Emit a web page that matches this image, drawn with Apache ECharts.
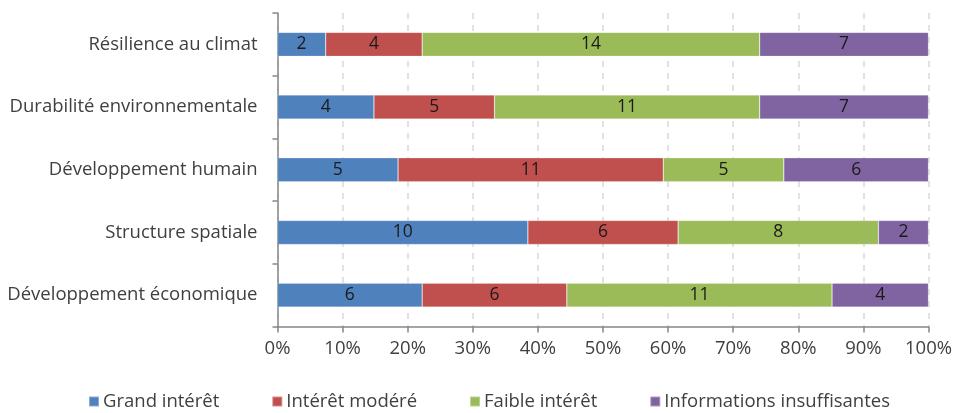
<!DOCTYPE html>
<html>
<head>
<meta charset="utf-8">
<script src="https://cdn.jsdelivr.net/npm/echarts@6/dist/echarts.min.js"></script>
<style>
  html, body { margin: 0; padding: 0; background: #fff; }
  #chart { width: 955px; height: 413px; }
</style>
</head>
<body>
<div id="chart"></div>
<script>
// Categories, bottom to top as drawn on the vertical axis
const categories = [
  'Développement économique',
  'Structure spatiale',
  'Développement humain',
  'Durabilité environnementale',
  'Résilience au climat'
];

const seriesNames = ['Grand intérêt', 'Intérêt modéré', 'Faible intérêt', 'Informations insuffisantes'];

// Counts per category (same order as categories)
const grandInteret = [6, 10, 5, 4, 2];
const interetModere = [6, 6, 11, 5, 4];
const faibleInteret = [11, 8, 5, 11, 14];
const infoInsuffisantes = [4, 2, 6, 7, 7];

const xTickLabels = ['0%', '10%', '20%', '30%', '40%', '50%', '60%', '70%', '80%', '90%', '100%'];

const colors = ['#4f81bd', '#c0504d', '#9bbb59', '#8064a2'];
const FONT = 'Open Sans';
const FS = 18.5;

const counts = [grandInteret, interetModere, faibleInteret, infoInsuffisantes];
const totals = categories.map((_, i) => counts.reduce((s, arr) => s + arr[i], 0));

const series = counts.map((arr, k) => ({
  name: seriesNames[k],
  type: 'bar',
  stack: 'total',
  barWidth: 24,
  itemStyle: { color: colors[k], borderColor: 'rgba(255,255,255,0.35)', borderWidth: 0.6 },
  label: {
    show: true,
    position: 'inside',
    color: '#1a1a1a',
    fontFamily: FONT,
    fontSize: 17.5,
    formatter: p => String(arr[p.dataIndex])
  },
  data: arr.map((v, i) => ({ value: v / totals[i] * 100 }))
}));

const chart = echarts.init(document.getElementById('chart'), null, { renderer: 'canvas' });
chart.setOption({
  animation: false,
  color: colors,
  grid: { left: 277.5, right: 24.5, top: 13, bottom: 86.5, containLabel: false },
  xAxis: {
    type: 'value',
    min: 0,
    max: 100,
    interval: 10,
    axisLine: { show: true, lineStyle: { color: '#868686', width: 1.5 } },
    axisTick: { show: true, length: 6, lineStyle: { color: '#868686', width: 1.5 } },
    axisLabel: {
      margin: 13,
      color: '#404040',
      fontFamily: FONT,
      fontSize: FS,
      formatter: v => xTickLabels[Math.round(v / 10)]
    },
    splitLine: { show: true, lineStyle: { color: '#d9d9d9', width: 1.5, type: [6, 6] } }
  },
  yAxis: {
    type: 'category',
    data: categories,
    axisLine: { show: true, lineStyle: { color: '#868686', width: 1.5 } },
    axisTick: { show: true, length: 5, lineStyle: { color: '#868686', width: 1.5 } },
    axisLabel: { margin: 20, color: '#404040', fontFamily: FONT, fontSize: FS },
    splitLine: { show: false }
  },
  legend: {
    bottom: -3,
    left: 83,
    icon: 'rect',
    itemWidth: 10,
    itemHeight: 10,
    itemGap: 52,
    textStyle: { color: '#404040', fontFamily: FONT, fontSize: FS, padding: [0, 0, 0, -1] },
    data: seriesNames
  },
  series: series
});
</script>
</body>
</html>
